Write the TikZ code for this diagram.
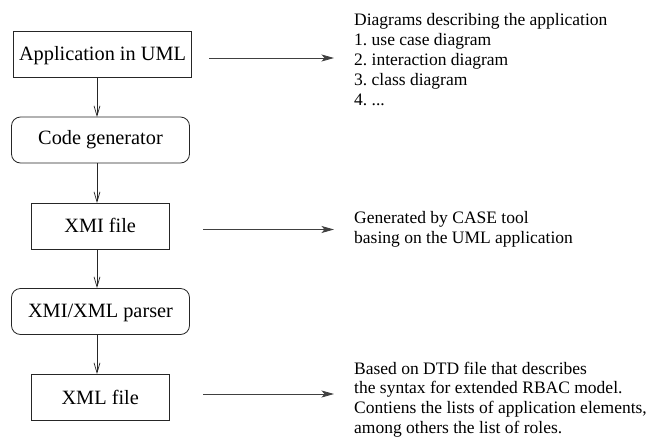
\documentclass[tikz,border=0pt]{standalone}
\usepackage{fontspec}
\setmainfont{Liberation Serif}
\usetikzlibrary{arrows.meta}
\frenchspacing
\tikzset{
  flowbox/.style={draw=black!85,line width=0.8pt,minimum height=46pt,inner sep=0pt,text depth=3pt,text height=14pt,font=\fontsize{20.3}{24}\selectfont},
  widebox/.style={flowbox,minimum width=178pt},
  filebox/.style={flowbox,minimum width=138.5pt},
  procbox/.style={flowbox,minimum width=178pt,rounded corners=9pt},
  flowarrow/.style={draw=black!85,line width=0.7pt,-{Straight Barb[length=10pt,width=6pt]}},
  notearrow/.style={draw=black!75,line width=0.8pt,-{Stealth[length=12.5pt,width=7pt,inset=3pt]}},
  note/.style={anchor=north west,inner sep=0pt,align=left,font=\fontsize{17.5}{19.8}\selectfont}
}
\begin{document}
\begin{tikzpicture}[x=1pt,y=-1pt]
\useasboundingbox (0,0) rectangle (649,437);
\node[widebox] (uml) at (102.5,54.5) {Application in UML};
\node[procbox,text height=12pt] (gen) at (100.5,140) {Code generator};
\node[filebox,text height=15.5pt] (xmi) at (100.2,226) {XMI file};
\node[procbox] (parser) at (100.5,311.5) {XMI/XML parser};
\node[filebox,text height=17pt] (xml) at (100.2,397) {XML file};
\coordinate (a1) at (97,78);
\coordinate (b1) at (97,117);
\coordinate (a2) at (97,163);
\coordinate (b2) at (97,203);
\coordinate (a3) at (97,249);
\coordinate (b3) at (97,288);
\coordinate (a4) at (97,334.5);
\coordinate (b4) at (97,374);
\draw[flowarrow] (a1) -- (b1);
\draw[flowarrow] (a2) -- (b2);
\draw[flowarrow] (a3) -- (b3);
\draw[flowarrow] (a4) -- (b4);
\coordinate (s1) at (209,58);
\coordinate (e1) at (334,58);
\coordinate (s2) at (203,229.5);
\coordinate (e2) at (334,229.5);
\coordinate (s3) at (203,394);
\coordinate (e3) at (334,394);
\draw[notearrow] (s1) -- (e1);
\draw[notearrow] (s2) -- (e2);
\draw[notearrow] (s3) -- (e3);
\node[note] (n1) at (354,13.5) {Diagrams describing the application\\1. use case diagram\\2. interaction diagram\\3. class diagram\\4. ...};
\node[note] (n2) at (354,211) {Generated by CASE tool\\basing on the UML application};
\node[note] (n3) at (354,361.5) {Based on DTD file that describes\\the syntax for extended RBAC model.\\Contiens the lists of application elements,\\among others the list of roles.};
\end{tikzpicture}
\end{document}
